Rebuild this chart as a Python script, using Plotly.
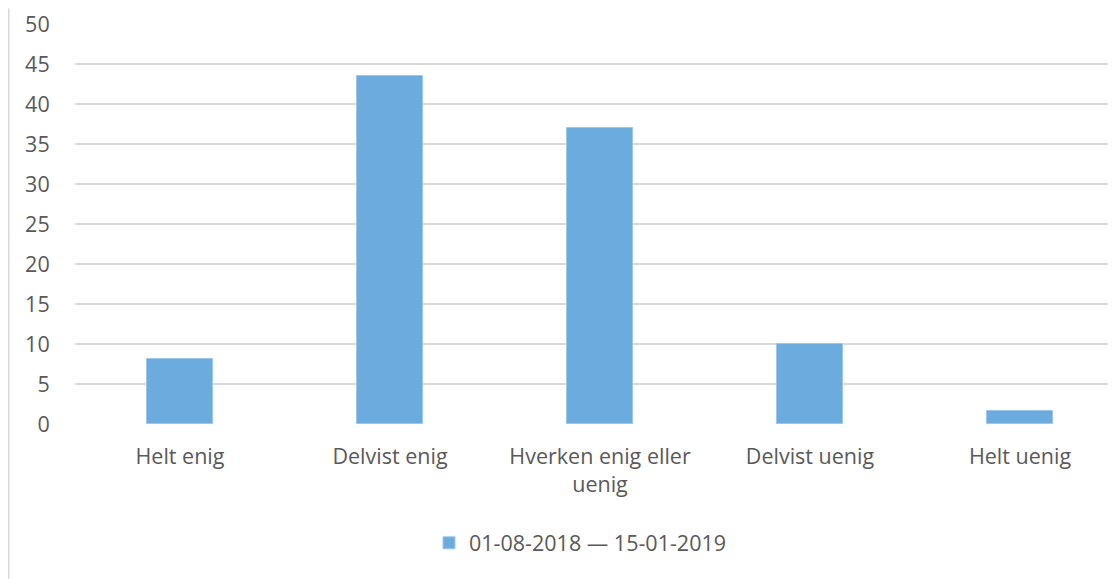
import plotly.graph_objects as go

categories = ["Helt enig", "Delvist enig", "Hverken enig eller<br>uenig", "Delvist uenig", "Helt uenig"]
values = [8.1, 43.5, 37.0, 10.0, 1.6]
series_name = "01-08-2018 — 15-01-2019"
y_ticks = [0, 5, 10, 15, 20, 25, 30, 35, 40, 45, 50]

# page body has an 8px margin, so the figure is 8px smaller than the window
W, H = 1108, 571
ml, mr, mt, mb = 67, 0, 15.5, 155
pw = W - ml - mr
ph = H - mt - mb
FS = 21.5

fig = go.Figure()
fig.add_trace(go.Bar(
    x=list(range(len(categories))), y=values, name=series_name,
    marker=dict(color="#6CABDD", line=dict(color="#9DC7EA", width=1)),
    width=0.314, showlegend=True,
))

xr_max = -0.5 + pw / 210.0
fig.update_layout(
    width=W, height=H,
    margin=dict(l=ml, r=mr, t=mt, b=mb, autoexpand=False),
    paper_bgcolor="white", plot_bgcolor="white",
    font=dict(family="Open Sans", size=FS, color="#595959"),
    bargap=0,
    xaxis=dict(
        range=[-0.5, xr_max], tickmode="array",
        tickvals=list(range(len(categories))), ticktext=categories,
        showgrid=False, zeroline=False, showline=False, automargin=False,
        ticks="outside", ticklen=13, tickcolor="rgba(0,0,0,0)",
        tickfont=dict(size=FS, color="#595959"),
    ),
    yaxis=dict(
        range=[0, 50], tickmode="array", tickvals=y_ticks,
        showgrid=True, gridcolor="#D9D9D9", gridwidth=1.5,
        zeroline=False, showline=False, automargin=False,
        ticks="outside", ticklen=20, tickcolor="rgba(0,0,0,0)",
        tickfont=dict(size=FS, color="#595959"),
    ),
    legend=dict(
        orientation="h", x=(572.5 - ml) / pw, xanchor="center",
        y=-(535 - (H - mb)) / ph, yanchor="middle",
        font=dict(size=FS, color="#595959"),
        itemwidth=30,
    ),
    shapes=[dict(type="line", xref="paper", yref="paper",
                 x0=(0.75 - ml) / pw, x1=(0.75 - ml) / pw,
                 y0=-mb / ph, y1=1 + mt / ph,
                 line=dict(color="#D9D9D9", width=1.5))],
)

fig.write_html("out.html")
